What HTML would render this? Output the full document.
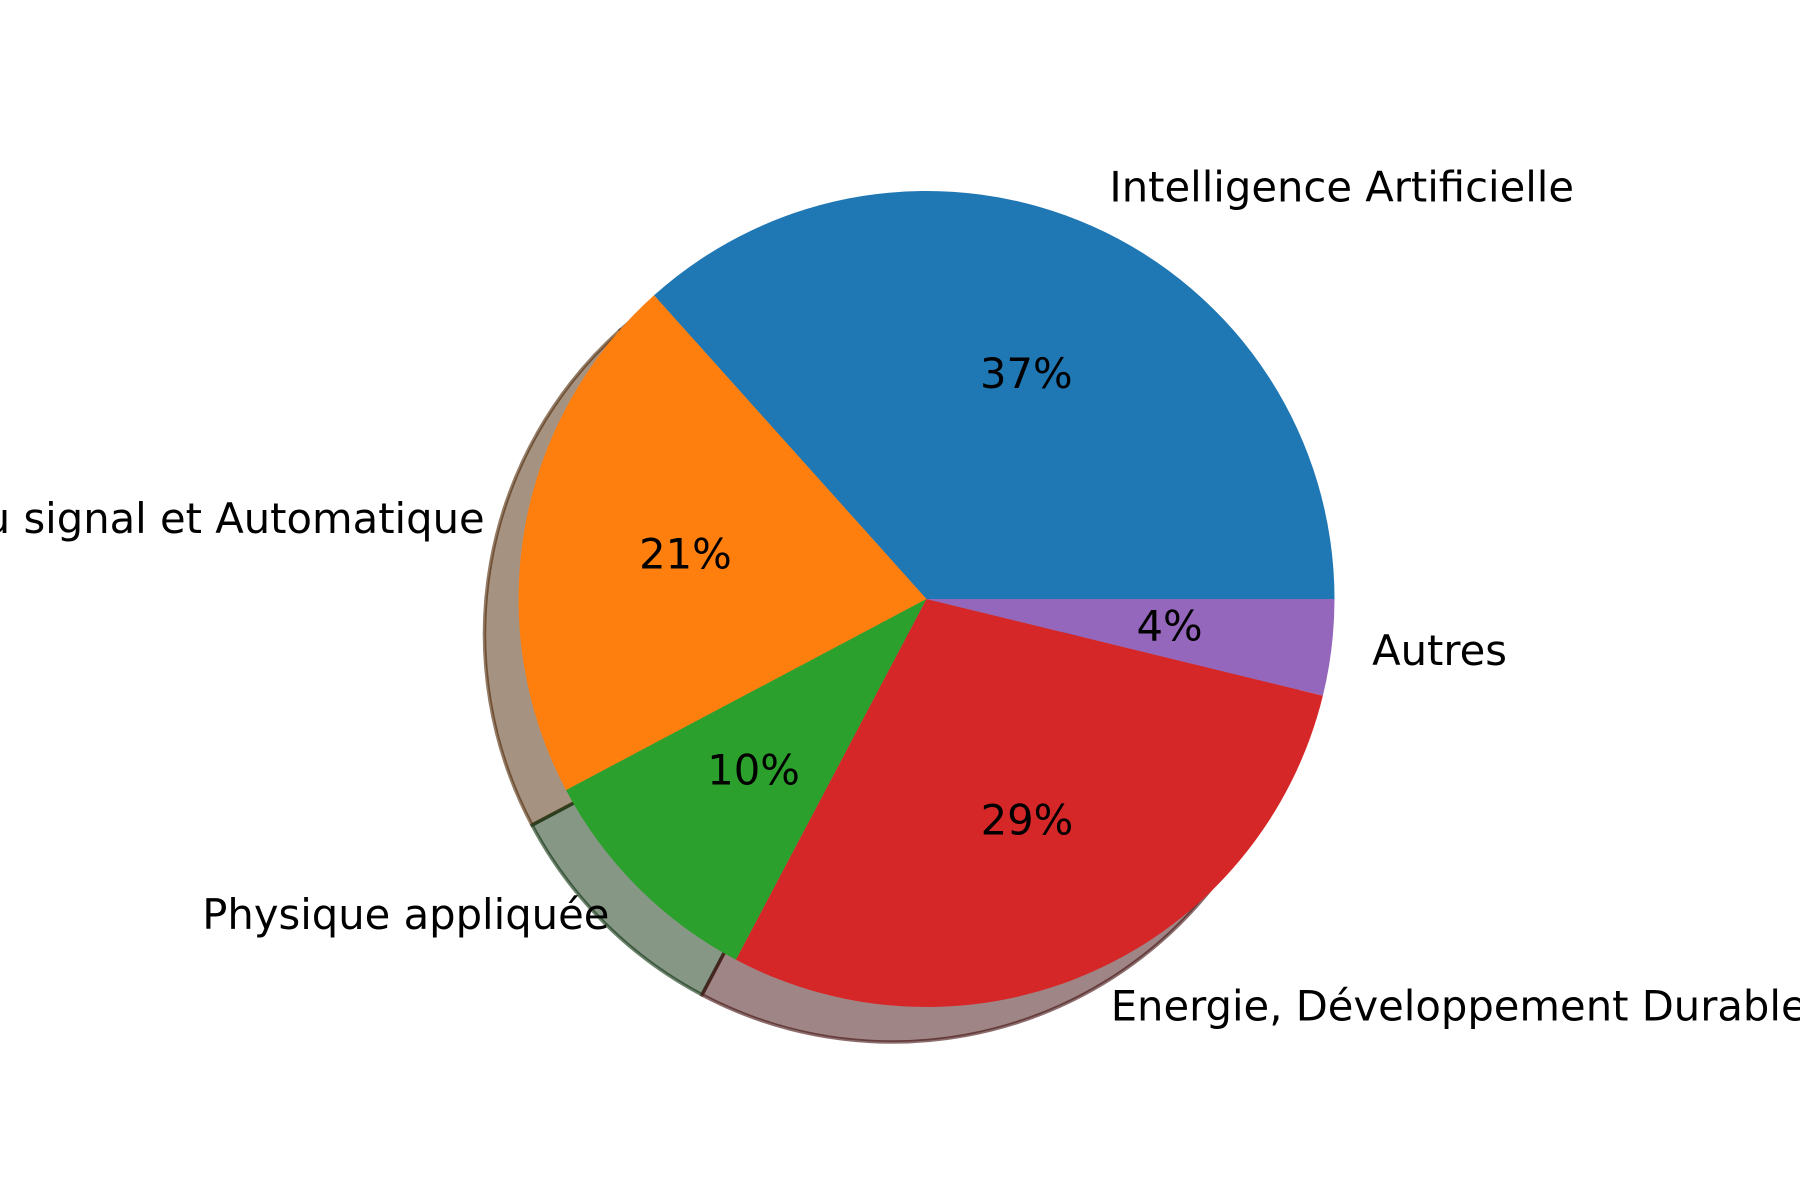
<!DOCTYPE html>
<html><head><meta charset="utf-8"><style>
html,body{margin:0;padding:0;background:#fff;}
svg{display:block;}
text{font-family:"DejaVu Sans","Liberation Sans",sans-serif;font-size:41.7px;fill:#000;}
</style></head><body>
<svg id="chart" width="1800" height="1200" viewBox="0 0 1800 1200" xmlns="http://www.w3.org/2000/svg">
<rect width="1800" height="1200" fill="#fff"/>
<g id="shadow"></g>
<g id="wedges"></g>
<g id="labels"></g>
</svg>
<script>
const categories = ["Intelligence Artificielle","Traitement du signal et Automatique","Physique appliquée","Energie, Développement Durable","Autres"];
const values = [36.6, 21.1, 9.5, 28.9, 3.8];
const colors = ["#1f77b4","#ff7f0e","#2ca02c","#d62728","#9467bd"];
const slugs = ["ia","signal","physique","energie","autres"];

const cx = 926.5, cy = 599, R = 408;
const sdx = -34, sdy = 35;
const textDy = -2;
const NS = "http://www.w3.org/2000/svg";
const total = values.reduce((a,b)=>a+b,0);
function pt(a, r, ox, oy){ return [ox + r*Math.cos(a), oy - r*Math.sin(a)]; }
function wedgePath(a0, a1, ox, oy){
  const p0 = pt(a0,R,ox,oy), p1 = pt(a1,R,ox,oy);
  const large = (a1-a0) > Math.PI ? 1 : 0;
  return `M${ox},${oy} L${p0[0]},${p0[1]} A${R},${R} 0 ${large} 0 ${p1[0]},${p1[1]} Z`;
}
function dark(hex){
  const n = parseInt(hex.slice(1),16);
  const r=(n>>16)&255,g=(n>>8)&255,b=n&255;
  return `rgb(${Math.round(r*0.3)},${Math.round(g*0.3)},${Math.round(b*0.3)})`;
}
const sh = document.getElementById('shadow');
const wg = document.getElementById('wedges');
const lb = document.getElementById('labels');
let acc = 0;
values.forEach((v,i)=>{
  const a0 = acc/total*2*Math.PI;
  acc += v;
  const a1 = acc/total*2*Math.PI;
  const s = document.createElementNS(NS,'path');
  s.setAttribute('d', wedgePath(a0,a1,cx+sdx,cy+sdy));
  s.setAttribute('fill', dark(colors[i]));
  s.setAttribute('fill-opacity','0.5');
  s.setAttribute('stroke', dark(colors[i]));
  s.setAttribute('stroke-opacity','0.6');
  s.setAttribute('stroke-width','3.5');
  
  
  sh.appendChild(s);
  const w = document.createElementNS(NS,'path');
  w.setAttribute('d', wedgePath(a0,a1,cx,cy));
  w.setAttribute('fill', colors[i]);
  
  
  wg.appendChild(w);
  const am = (a0+a1)/2;
  const lp = pt(am, R*1.1, cx, cy);
  const t = document.createElementNS(NS,'text');
  t.setAttribute('x', lp[0]); t.setAttribute('y', lp[1] + textDy);
  t.setAttribute('text-anchor', Math.cos(am) >= 0 ? 'start' : 'end');
  t.setAttribute('dominant-baseline','central');
  t.textContent = categories[i];
  
  
  lb.appendChild(t);
  const pp = pt(am, R*0.6, cx, cy);
  const p = document.createElementNS(NS,'text');
  p.setAttribute('x', pp[0]); p.setAttribute('y', pp[1] + textDy);
  p.setAttribute('text-anchor','middle');
  p.setAttribute('dominant-baseline','central');
  p.textContent = Math.round(v/total*100) + '%';
  
  
  lb.appendChild(p);
});
</script>
</body></html>
